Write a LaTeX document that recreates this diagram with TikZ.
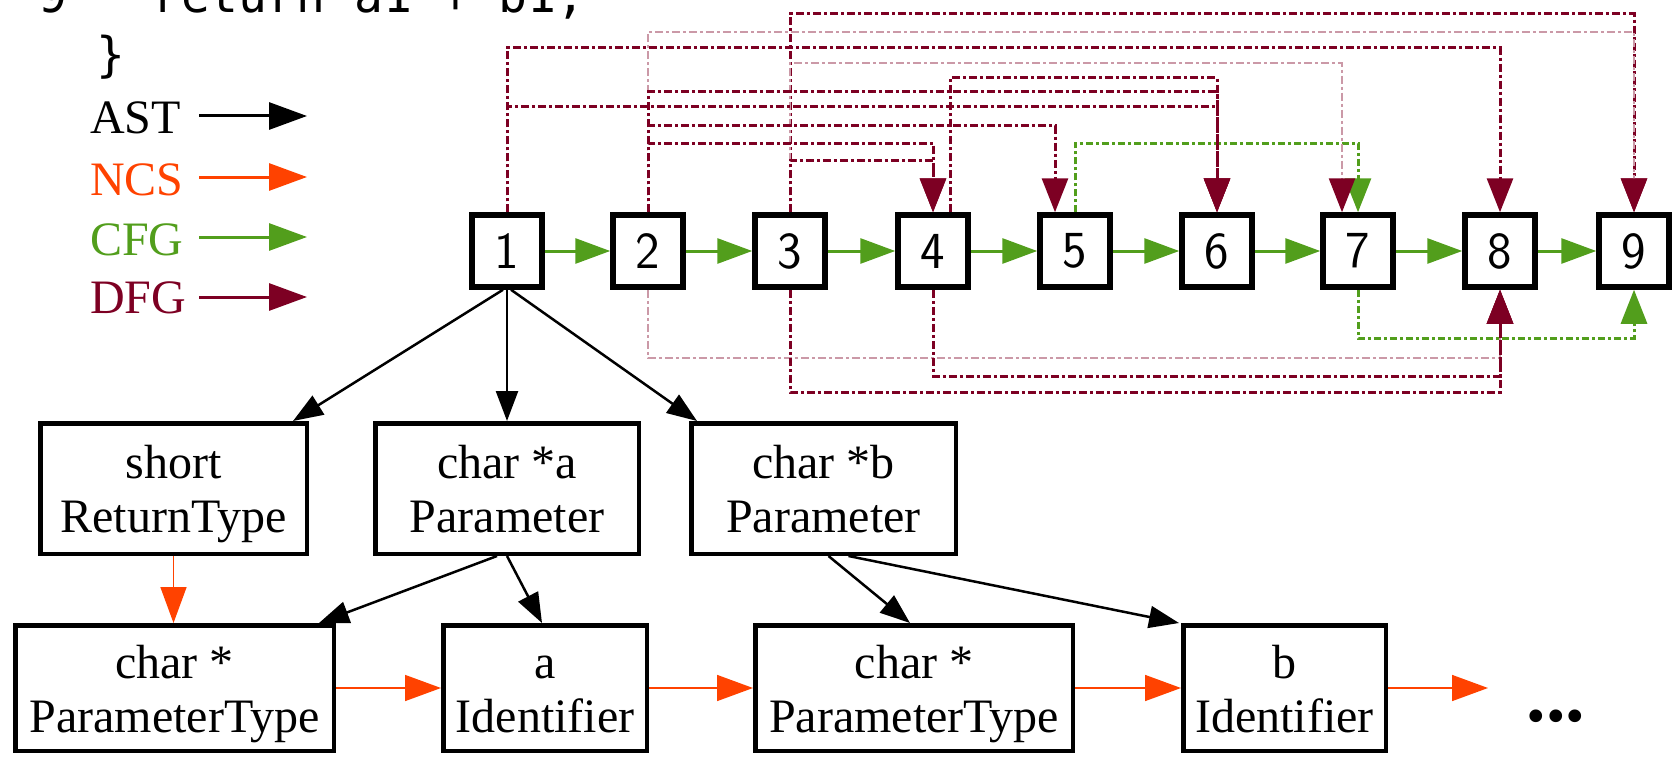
\documentclass[tikz,border=0pt]{standalone}
\usepackage{fontspec}
\setmainfont{Liberation Serif}
\newfontfamily\codefont{DejaVu Sans Mono}
\usetikzlibrary{arrows.meta,calc}
\definecolor{dfgc}{RGB}{125,0,35}
\definecolor{cfgc}{RGB}{82,158,28}
\definecolor{ncsc}{RGB}{255,66,0}
\newcommand\myhi{\rule{0pt}{45pt}}
\newcommand\mylo{\rule[-10.5pt]{0pt}{10.5pt}}
\begin{document}
\begin{tikzpicture}[x=1pt,y=-1pt,
  num/.style={draw,line width=5.5pt,minimum width=70pt,minimum height=72pt,inner sep=0pt,font=\sffamily\fontsize{52}{52}\selectfont},
  astbox/.style={draw,line width=4.5pt,align=center,inner sep=0pt,font=\fontsize{48}{54}\selectfont},
  txt/.style={inner sep=0pt,anchor=base west},
  codetxt/.style={txt,font=\codefont\fontsize{48}{54}\selectfont},
  legtxt/.style={txt,font=\fontsize{48}{54}\selectfont},
  astedge/.style={line width=2.5pt,-{Triangle[length=30pt,width=22pt]}},
  ncsedge/.style={ncsc,line width=1.6pt,-{Triangle[length=36pt,width=26pt]}},
  cfgedge/.style={cfgc,line width=3pt,-{Triangle[length=35pt,width=25pt]}},
  cfgdash/.style={cfgc,line width=3pt,dash pattern=on 7pt off 3pt on 3pt off 3pt,-{Triangle[length=34pt,width=26pt,color=cfgc]}},
  dfg/.style={dfgc,line width=3pt,dash pattern=on 8pt off 3pt on 3pt off 3pt,-{Triangle[length=34pt,width=26pt,color=dfgc]}},
  dfgl/.style={dfgc!40,line width=2.6pt,dash pattern=on 8pt off 3pt on 3pt off 3pt,-{Triangle[length=34pt,width=26pt,color=dfgc]}},
  legarrow/.style={line width=3pt,-{Triangle[length=38pt,width=27pt]}}
]
\useasboundingbox (0,0) rectangle (1675,757);

% code fragment
\node[codetxt] (c9) at (38,13) {9};
\node[codetxt] (cret) at (152,13) {return a1 + b1;};
\node[codetxt] (cbr) at (96,72) {\}};

% legend
\node[legtxt,text=black] (tAST) at (90,133) {AST};
\node[legtxt,text=ncsc] (tNCS) at (90,195) {NCS};
\node[legtxt,text=cfgc] (tCFG) at (90,255) {CFG};
\node[legtxt,text=dfgc] (tDFG) at (90,313) {DFG};
\coordinate (la1) at (199,116); \coordinate (lb1) at (307,116);
\coordinate (la2) at (199,177); \coordinate (lb2) at (307,177);
\coordinate (la3) at (199,237); \coordinate (lb3) at (307,237);
\coordinate (la4) at (199,297); \coordinate (lb4) at (307,297);
\draw[legarrow,black] (la1) -- (lb1);
\draw[legarrow,ncsc] (la2) -- (lb2);
\draw[legarrow,cfgc] (la3) -- (lb3);
\draw[legarrow,dfgc] (la4) -- (lb4);

% statement nodes
\foreach \i/\x in {1/507,2/648,3/790,4/933,5/1075,6/1217,7/1358,8/1500,9/1634}
  \node[num] (n\i) at (\x,251) {\i};

% AST nodes
\node[astbox,minimum width=266.5pt,minimum height=130.5pt] (RT) at (173.5,488.5) {\myhi short\\ReturnType\mylo};
\node[astbox,minimum width=263.5pt,minimum height=130.5pt] (Pa) at (507,488.5) {\myhi char *a\\Parameter\mylo};
\node[astbox,minimum width=264.5pt,minimum height=130.5pt] (Pb) at (823.5,488.5) {\myhi char *b\\Parameter\mylo};
\node[astbox,minimum width=318.5pt,minimum height=125.5pt] (PT1) at (174.5,688) {\myhi char *\\ParameterType\mylo};
\node[astbox,minimum width=203.5pt,minimum height=125.5pt] (Ia) at (545,688) {\myhi a\\Identifier\mylo};
\node[astbox,minimum width=317.5pt,minimum height=125.5pt] (PT2) at (914,688) {\myhi char *\\ParameterType\mylo};
\node[astbox,minimum width=202.5pt,minimum height=125.5pt] (Ib) at (1284.5,688) {\myhi b\\Identifier\mylo};
\node[inner sep=0pt,anchor=base,font=\bfseries\fontsize{78}{78}\selectfont] (dots) at (1556,721) {...};

% AST edges
\draw[astedge] ([xshift=-4pt]n1.south) -- ([xshift=-16pt]RT.north east);
\draw[astedge] (n1.south) -- (Pa.north);
\draw[astedge] ([xshift=4pt]n1.south) -- ([xshift=8pt]Pb.north west);
\draw[astedge] ([xshift=-10pt]Pa.south) -- ([xshift=-17pt]PT1.north east);
\draw[astedge] (Pa.south) -- ([xshift=-3pt]Ia.north);
\draw[astedge] ([xshift=5pt]Pb.south) -- ([xshift=-4pt]PT2.north);
\draw[astedge] ([xshift=25pt]Pb.south) -- ([xshift=-2pt]Ib.north west);

% NCS edges
\coordinate (ncsEnd) at (1488,688);
\draw[ncsedge] (RT.south) -- (RT.south |- PT1.north);
\draw[ncsedge] (PT1.east) -- (Ia.west);
\draw[ncsedge] (Ia.east) -- (PT2.west);
\draw[ncsedge] (PT2.east) -- (Ib.west);
\draw[ncsedge] (Ib.east) -- (ncsEnd);

% CFG edges
\foreach \i/\j in {1/2,2/3,3/4,4/5,5/6,6/7,7/8,8/9}
  \draw[cfgedge] (n\i.east) -- (n\j.west);

% levels
\coordinate (L1) at (0,14);
\coordinate (L2) at (0,32);
\coordinate (L3) at (0,48);
\coordinate (L4) at (0,63);
\coordinate (L5) at (0,78);
\coordinate (L6) at (0,92);
\coordinate (L7) at (0,107);
\coordinate (L8) at (0,126);
\coordinate (L9) at (0,143);
\coordinate (L10) at (0,160);
\coordinate (LG) at (0,143);
\coordinate (B0) at (0,338);
\coordinate (B1) at (0,358);
\coordinate (B2) at (0,376);
\coordinate (B3) at (0,392);
\coordinate (s4) at ([xshift=17pt]n4.north);
\coordinate (t5) at ([xshift=-20pt]n5.north);
\coordinate (t7) at ([xshift=-16pt]n7.north);

% CFG dashed
\draw[cfgdash] (n5.north) -- (n5.north |- LG) -- (n7.north |- LG) -- (n7.north);
\draw[cfgdash] (n7.south) -- (n7.south |- B0) -- (n9.south |- B0) -- (n9.south);

% DFG above
\draw[dfg] (n3.north) -- (n3.north |- L1) -- (n9.north |- L1) -- (n9.north);
\draw[dfgl] (n2.north) -- (n2.north |- L2) -- (n9.north |- L2) -- (n9.north);
\draw[dfg] (n1.north) -- (n1.north |- L3) -- (n8.north |- L3) -- (n8.north);
\draw[dfgl] (n3.north) -- (n3.north |- L4) -- (t7 |- L4) -- (t7);
\draw[dfg] (s4) -- (s4 |- L5) -- (n6.north |- L5) -- (n6.north);
\draw[dfg] (n2.north) -- (n2.north |- L6) -- (n6.north |- L6) -- (n6.north);
\draw[dfg] (n1.north) -- (n1.north |- L7) -- (n6.north |- L7) -- (n6.north);
\draw[dfg] (n2.north) -- (n2.north |- L8) -- (t5 |- L8) -- (t5);
\draw[dfg] (n2.north) -- (n2.north |- L9) -- (n4.north |- L9) -- (n4.north);
\draw[dfg] (n3.north) -- (n3.north |- L10) -- (n4.north |- L10) -- (n4.north);
% DFG below
\draw[dfgl] (n2.south) -- (n2.south |- B1) -- (n8.south |- B1) -- (n8.south);
\draw[dfg] (n4.south) -- (n4.south |- B2) -- (n8.south |- B2) -- (n8.south);
\draw[dfg] (n3.south) -- (n3.south |- B3) -- (n8.south |- B3) -- (n8.south);
\end{tikzpicture}
\end{document}
